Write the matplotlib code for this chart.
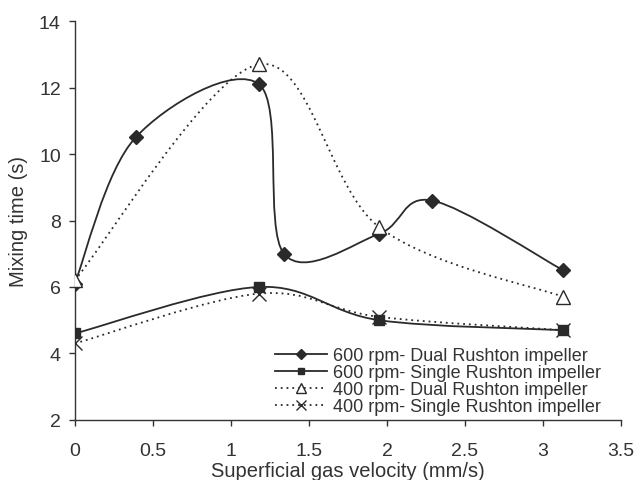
import numpy as np
import matplotlib
matplotlib.use("Agg")
import matplotlib.pyplot as plt
from matplotlib.path import Path
from matplotlib.patches import PathPatch
from matplotlib.lines import Line2D

plt.rcParams['font.family'] = ['Liberation Sans', 'DejaVu Sans']

# gas velocity (mm/s) and mixing time (s)
x_600_dual = [0, 0.39, 1.18, 1.34, 1.95, 2.29, 3.13]
y_600_dual = [6.1, 10.5, 12.1, 7.0, 7.6, 8.6, 6.5]

x_600_single = [0, 1.18, 1.95, 3.13]
y_600_single = [4.6, 6.0, 5.0, 4.7]

x_400_dual = [0, 1.18, 1.95, 3.13]
y_400_dual = [6.2, 12.7, 7.8, 5.7]

x_400_single = [0, 1.18, 1.95, 3.13]
y_400_single = [4.3, 5.8, 5.1, 4.7]

labels = ["600 rpm- Dual Rushton impeller",
          "600 rpm- Single Rushton impeller",
          "400 rpm- Dual Rushton impeller",
          "400 rpm- Single Rushton impeller"]

line_col = "#2a2a2a"
text_col = "#333333"
dotted = (0, (1, 2.2))


def smooth_path(xs, ys):
    # Excel-style smoothed line: cubic bezier segments through the points
    p = np.column_stack([xs, ys]).astype(float)
    n = len(p)
    verts = [p[0]]
    codes = [Path.MOVETO]
    for i in range(n - 1):
        p0 = p[i - 1] if i > 0 else p[i]
        p1 = p[i]
        p2 = p[i + 1]
        p3 = p[i + 2] if i + 2 < n else p[i + 1]
        c1 = p1 + (p2 - p0) / 6.0
        c2 = p2 - (p3 - p1) / 6.0
        verts += [c1, c2, p2]
        codes += [Path.CURVE4] * 3
    return Path(verts, codes)


fig = plt.figure(figsize=(6.39, 4.81), dpi=100)
ax = fig.add_axes([0.117, 0.125, 0.855, 0.829])

series = [
    (x_600_dual, y_600_dual, "-", "D", line_col, 7),
    (x_600_single, y_600_single, "-", "s", line_col, 6.5),
    (x_400_dual, y_400_dual, dotted, "^", "white", 10),
    (x_400_single, y_400_single, dotted, "x", line_col, 10),
]

handles = []
for (xs, ys, ls, mk, fc, ms), lab in zip(series, labels):
    ax.add_patch(PathPatch(smooth_path(xs, ys), facecolor="none",
                           edgecolor=line_col, lw=1.3, linestyle=ls,
                           transform=ax.transData, zorder=2))
    ax.plot(xs, ys, linestyle="none", marker=mk, markersize=ms,
            markerfacecolor=fc, markeredgecolor=line_col,
            markeredgewidth=1.0, zorder=3)
    handles.append(Line2D([], [], color=line_col, lw=1.3, linestyle=ls,
                          marker=mk, markersize=ms * 0.75,
                          markerfacecolor=fc, markeredgecolor=line_col))

ax.set_xlim(0, 3.5)
ax.set_ylim(2, 14)
ax.set_xticks([0, 0.5, 1, 1.5, 2, 2.5, 3, 3.5])
ax.set_xticklabels(["0", "0.5", "1", "1.5", "2", "2.5", "3", "3.5"])
ax.set_yticks([2, 4, 6, 8, 10, 12, 14])

for s in ["top", "right"]:
    ax.spines[s].set_visible(False)
for s in ["left", "bottom"]:
    ax.spines[s].set_color(text_col)
    ax.spines[s].set_linewidth(1.0)
ax.tick_params(direction="out", length=4, width=1.0, colors=text_col,
               labelsize=14, labelcolor=text_col)
ax.tick_params(axis="x", pad=12)
ax.tick_params(axis="y", pad=6)

ax.set_xlabel("Superficial gas velocity (mm/s)", fontsize=14.5,
              color=text_col)
ax.set_ylabel("Mixing time (s)", fontsize=14.5, color=text_col)
ax.xaxis.set_label_coords(0.5, -0.102)
ax.yaxis.set_label_coords(-0.086, 0.5)

ax.legend(handles=handles, labels=labels, loc="lower right",
          bbox_to_anchor=(0.972, 0.0), frameon=False, fontsize=13,
          handlelength=2.9, handletextpad=0.35, labelspacing=0.0,
          borderpad=0.0, borderaxespad=0.25, labelcolor=text_col)

fig.savefig("out.png", dpi=100)
